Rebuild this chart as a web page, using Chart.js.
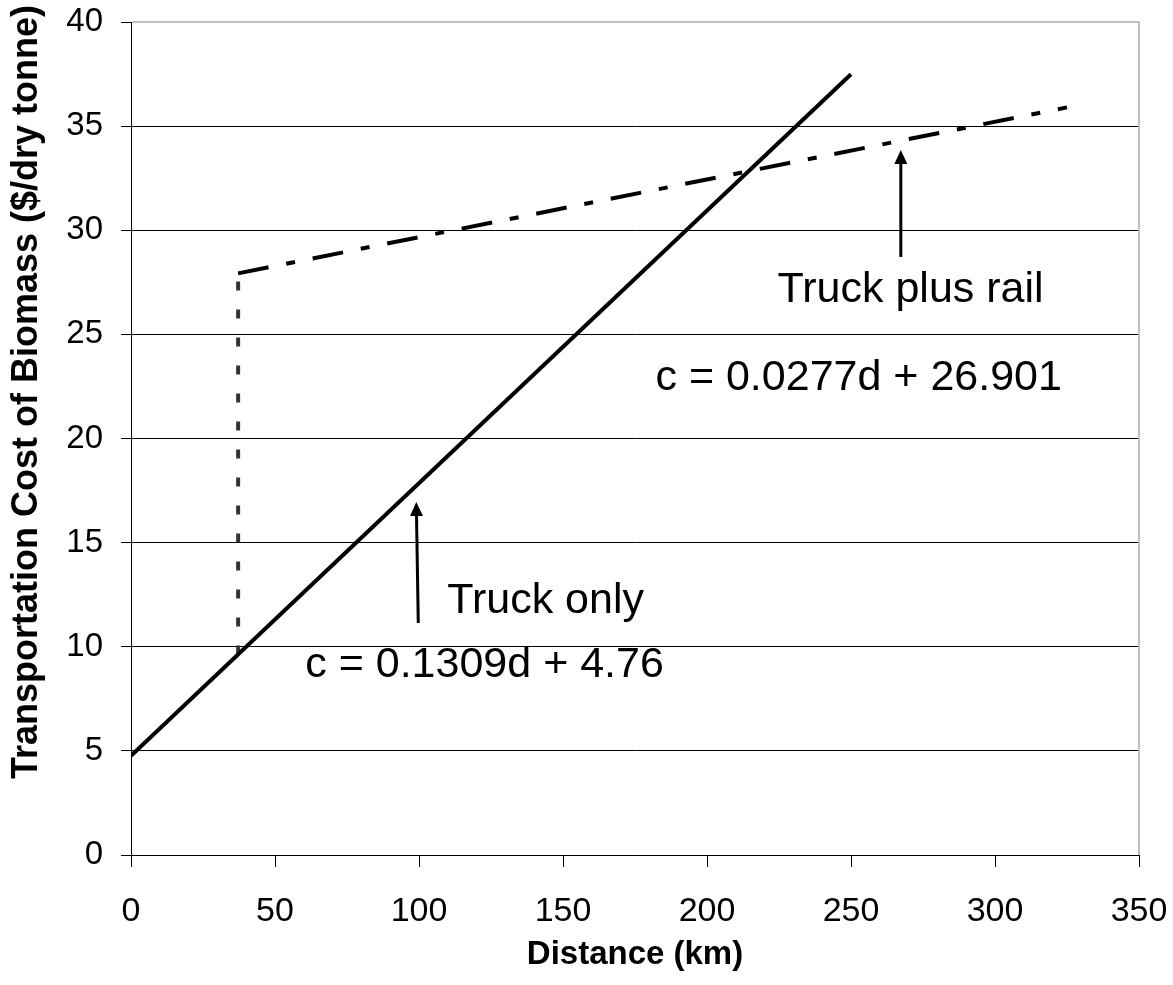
<!DOCTYPE html>
<html>
<head>
<meta charset="utf-8">
<script src="https://cdn.jsdelivr.net/npm/chart.js@4.4.0/dist/chart.umd.min.js"></script>
<style>
  body { margin: 0; background: #fff; }
  #wrap { width: 1173px; height: 985px; }
</style>
</head>
<body>
<div id="wrap"><canvas id="chart" width="1173" height="985"></canvas></div>
<script>
// truck only: c = 0.1309d + 4.76
const truckDist = [0, 250]
const truckCost = [4.76, 37.49]

// truck plus rail: c = 0.0277d + 26.901
const railDist = [37.2, 325]
const railCost = [27.93, 35.9]

// dotted drop from rail line down to truck line at the transfer point
const stepDist = [37.2, 37.2]
const stepCost = [9.63, 27.93]

const xTicks = [0, 50, 100, 150, 200, 250, 300, 350]
const yTicks = [0, 5, 10, 15, 20, 25, 30, 35, 40]

// labels and arrows, placed in data units
const notes = [
  { text: 'Truck plus rail', x: 224.5, y: 26.55 },
  { text: 'c = 0.0277d + 26.901', x: 182.1, y: 22.33 },
  { text: 'Truck only', x: 109.8, y: 11.62 },
  { text: 'c = 0.1309d + 4.76', x: 60.5, y: 8.55 }
]
const arrows = [
  { x0: 99.75, y0: 11.14, x1: 99.06, y1: 16.95 },
  { x0: 267.3, y0: 28.72, x1: 267.3, y1: 33.85 }
]

const font = '"Liberation Sans", Arial, sans-serif'

function toPoints(xs, ys) {
  return xs.map((x, i) => ({ x: x, y: ys[i] }))
}

const extras = {
  id: 'extras',
  afterDatasetsDraw(chart) {
    const ctx = chart.ctx
    const xs = chart.scales.x
    const ys = chart.scales.y
    const area = chart.chartArea

    // grey plot border on top and right
    ctx.save()
    ctx.strokeStyle = '#c0c0c0'
    ctx.lineWidth = 2
    ctx.beginPath()
    ctx.moveTo(area.left + 1, area.top)
    ctx.lineTo(area.right, area.top)
    ctx.lineTo(area.right, area.bottom)
    ctx.stroke()

    ctx.fillStyle = '#000'
    ctx.font = '43px ' + font
    ctx.textAlign = 'left'
    ctx.textBaseline = 'alphabetic'
    notes.forEach(n => {
      ctx.fillText(n.text, xs.getPixelForValue(n.x), ys.getPixelForValue(n.y))
    })

    ctx.strokeStyle = '#000'
    ctx.lineWidth = 3
    arrows.forEach(a => {
      const px0 = xs.getPixelForValue(a.x0), py0 = ys.getPixelForValue(a.y0)
      const px1 = xs.getPixelForValue(a.x1), py1 = ys.getPixelForValue(a.y1)
      const ang = Math.atan2(py1 - py0, px1 - px0)
      const len = 14, half = 6.5
      const bx = px1 - len * Math.cos(ang), by = py1 - len * Math.sin(ang)
      ctx.beginPath()
      ctx.moveTo(px0, py0)
      ctx.lineTo(bx, by)
      ctx.stroke()
      ctx.beginPath()
      ctx.moveTo(px1, py1)
      ctx.lineTo(bx + half * Math.sin(ang), by - half * Math.cos(ang))
      ctx.lineTo(bx - half * Math.sin(ang), by + half * Math.cos(ang))
      ctx.closePath()
      ctx.fill()
    })

    // y axis title
    ctx.translate(27, 392)
    ctx.rotate(-Math.PI / 2)
    ctx.font = 'bold 36px ' + font
    ctx.textAlign = 'center'
    ctx.textBaseline = 'middle'
    ctx.fillText('Transportation Cost of Biomass ($/dry tonne)', 0, 0)
    ctx.restore()
  }
}

new Chart(document.querySelector('#chart'), {
  type: 'scatter',
  data: {
    datasets: [
      {
        label: 'Truck only',
        data: toPoints(truckDist, truckCost),
        showLine: true,
        borderColor: '#000',
        borderWidth: 4,
        pointRadius: 0
      },
      {
        label: 'Truck plus rail',
        data: toPoints(railDist, railCost),
        showLine: true,
        borderColor: '#000',
        borderWidth: 4,
        borderDash: [31, 18, 9, 18],
        pointRadius: 0
      },
      {
        label: 'Transfer',
        data: toPoints(stepDist, stepCost),
        showLine: true,
        borderColor: '#333',
        borderWidth: 4,
        borderDash: [9, 19],
        pointRadius: 0
      }
    ]
  },
  options: {
    responsive: false,
    animation: false,
    layout: { padding: { top: 22, right: 34, left: 0, bottom: 0 } },
    plugins: {
      legend: { display: false },
      tooltip: { enabled: false }
    },
    scales: {
      x: {
        type: 'linear',
        min: 0,
        max: 350,
        afterBuildTicks: s => { s.ticks = xTicks.map(v => ({ value: v })) },
        afterFit: s => { s.height = 130; s.paddingLeft = 0; s.paddingRight = 0 },
        border: { color: '#000', width: 1 },
        grid: { drawOnChartArea: false, drawTicks: true, tickLength: 12, color: '#000' },
        ticks: { color: '#000', font: { family: font, size: 34 }, padding: 24, maxRotation: 0 },
        title: {
          display: true,
          text: 'Distance (km)',
          color: '#000',
          font: { family: font, size: 33, weight: 'bold' },
          padding: { top: 0, bottom: 10 }
        }
      },
      y: {
        type: 'linear',
        min: 0,
        max: 40,
        afterBuildTicks: s => { s.ticks = yTicks.map(v => ({ value: v })) },
        afterFit: s => { s.width = 131; s.paddingTop = 0; s.paddingBottom = 0 },
        border: { color: '#000', width: 1 },
        grid: { color: '#000', lineWidth: 1, tickLength: 10 },
        ticks: { color: '#000', font: { family: font, size: 33 }, padding: 18 }
      }
    }
  },
  plugins: [extras]
})
</script>
</body>
</html>
